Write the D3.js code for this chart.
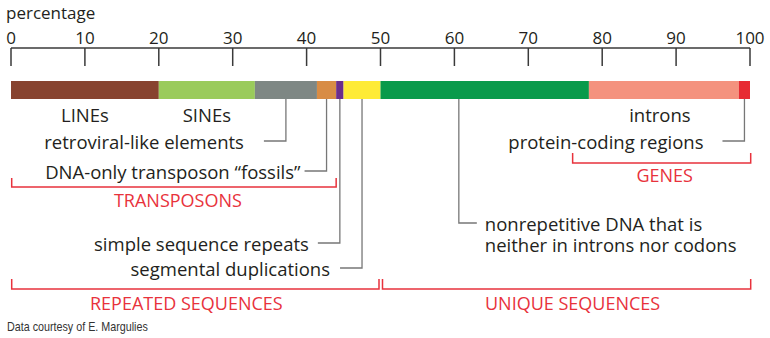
<!DOCTYPE html>
<html>
<head>
<meta charset="utf-8">
<script src="https://cdn.jsdelivr.net/npm/d3@7"></script>
<style>
  html, body { margin: 0; padding: 0; background: #fff; }
  svg { display: block; }
  .lbl { font-family: "Open Sans", "Noto Sans", sans-serif; font-size: 18.5px; fill: #231f20; }
  .red { font-family: "Open Sans", "Noto Sans", sans-serif; font-size: 18px; fill: #e8323c; }
  .credit { font-family: "Liberation Sans Narrow", "Arial Narrow", "Liberation Sans", sans-serif; font-size: 12.5px; fill: #333; }
</style>
</head>
<body>
<svg id="chart" width="770" height="338"></svg>
<script>
// Composition of the human genome, percent of total sequence
const segmentNames = [
  "LINEs", "SINEs", "retroviral-like elements", "DNA-only transposon \u201cfossils\u201d",
  "simple sequence repeats", "segmental duplications",
  "nonrepetitive DNA", "introns", "protein-coding regions"
];
const segmentShares = [20, 13, 8.4, 2.6, 1, 5, 28.2, 20.3, 1.5];
const segmentColors = ["#87432f", "#9acb5b", "#7e8784", "#d88c45", "#6a2d8c", "#feeb36", "#099a4b", "#f4927e", "#e72b33"];
const axisTicks = [0, 10, 20, 30, 40, 50, 60, 70, 80, 90, 100];

// Grouping brackets: [start %, end %]
const groupNames = ["TRANSPOSONS", "GENES", "REPEATED SEQUENCES", "UNIQUE SEQUENCES"];
const groupRanges = [[0, 44], [76, 100], [0, 50], [50, 100]];

const svg = d3.select("#chart");
const x = d3.scaleLinear().domain([0, 100]).range([11, 750]);

// cumulative extents of each segment
let acc = 0;
const segs = segmentShares.map((v, i) => {
  const s = { name: segmentNames[i], start: acc, end: acc + v, color: segmentColors[i] };
  acc += v;
  return s;
});

// axis title
svg.append("text").attr("class", "lbl").attr("x", 6).attr("y", 18.5).style("font-size", "17px").text("percentage");

// top axis with downward ticks, labels above the line
const axisY = 48;
const axisG = svg.append("g").attr("transform", `translate(0,${axisY})`);
axisG.append("line")
  .attr("x1", x(0)).attr("x2", x(100))
  .attr("stroke", "#3a3a3a").attr("stroke-width", 1.5);
axisG.selectAll("line.tick").data(axisTicks).join("line")
  .attr("class", "tick")
  .attr("x1", d => x(d)).attr("x2", d => x(d))
  .attr("y1", 0).attr("y2", 18)
  .attr("stroke", "#3a3a3a").attr("stroke-width", 1.5);
axisG.selectAll("text.tick").data(axisTicks).join("text")
  .attr("class", "lbl tick")
  .attr("x", d => x(d)).attr("y", -4.5)
  .attr("text-anchor", "middle")
  .style("font-size", "17px")
  .text(d => d);

// stacked bar
const barY = 81, barH = 18;
svg.append("g").selectAll("rect").data(segs).join("rect")
  .attr("x", d => x(d.start)).attr("y", barY)
  .attr("width", d => x(d.end) - x(d.start)).attr("height", barH)
  .attr("fill", d => d.color);

const barBottom = barY + barH;
const mid = d => x((d.start + d.end) / 2);

// labels placed directly under their segments
[[0, 0], [1, 0], [7, -4]].forEach(([i, dx]) => {
  svg.append("text").attr("class", "lbl")
    .attr("x", mid(segs[i]) + dx).attr("y", 114)
    .attr("text-anchor", "middle").attr("dominant-baseline", "central")
    .text(segs[i].name);
});

// elbow leaders running left to their labels
const leftLeaders = [
  { i: 2, y: 141, gap: 20 },
  { i: 3, y: 171, gap: 4 },
  { i: 4, y: 243, gap: 9 },
  { i: 5, y: 268, gap: 10 },
  { i: 8, y: 141, gap: 19 }
];
const leaderG = svg.append("g").attr("fill", "none").attr("stroke", "#777").attr("stroke-width", 1.3);
leftLeaders.forEach(l => {
  const sx = mid(segs[l.i]);
  const ex = sx - 22;
  leaderG.append("path").attr("d", `M${sx},${barBottom}V${l.y}H${ex}`);
  svg.append("text").attr("class", "lbl")
    .attr("x", ex - l.gap).attr("y", l.y)
    .attr("text-anchor", "end").attr("dominant-baseline", "central")
    .text(segs[l.i].name);
});

// leader for the nonrepetitive portion, running right to a two-line label
const nonrepAnchor = 60.6;
{
  const sx = x(nonrepAnchor), y = 223, ex = sx + 18;
  leaderG.append("path").attr("d", `M${sx},${barBottom}V${y}H${ex}`);
  const t = svg.append("text").attr("class", "lbl").attr("x", ex + 8).attr("y", y)
    .attr("dominant-baseline", "central");
  t.append("tspan").attr("x", ex + 8).attr("dy", 0).text("nonrepetitive DNA that is");
  t.append("tspan").attr("x", ex + 8).attr("dy", 20.5).text("neither in introns nor codons");
}

// red grouping brackets with captions
const bracketLayout = [
  { y: 187, h: 9, ty: 200, dx: 4 },
  { y: 163, h: 10, ty: 175, dx: 3 },
  { y: 289, h: 10, ty: 303, dx: -9 },
  { y: 289, h: 10, ty: 303, dx: 6 }
];
const insets = [[0.7, 0], [0, 0.7], [0.7, -1.5], [2, 0.7]];
groupNames.forEach((name, i) => {
  const [a, b] = groupRanges[i];
  const L = bracketLayout[i];
  const x0 = x(a) + insets[i][0], x1 = x(b) + insets[i][1];
  svg.append("path")
    .attr("d", `M${x0},${L.y - L.h}V${L.y}H${x1}V${L.y - L.h}`)
    .attr("fill", "none").attr("stroke", "#e8323c").attr("stroke-width", 1.5);
  svg.append("text").attr("class", "red")
    .attr("x", (x0 + x1) / 2 + L.dx).attr("y", L.ty)
    .attr("text-anchor", "middle").attr("dominant-baseline", "central")
    .text(name);
});

// source note, horizontally condensed
svg.append("text").attr("class", "credit")
  .attr("transform", "translate(7,331) scale(0.86,1)")
  .text("Data courtesy of E. Margulies");
</script>
</body>
</html>
